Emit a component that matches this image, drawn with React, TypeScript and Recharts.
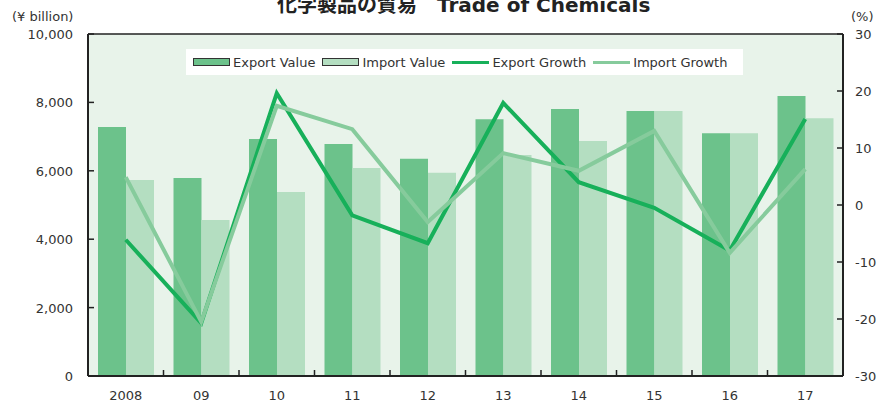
import {
  ComposedChart,
  Bar,
  Line,
  XAxis,
  YAxis,
  CartesianGrid,
  ReferenceLine,
} from "recharts";

const years = ["2008", "09", "10", "11", "12", "13", "14", "15", "16", "17"];
const exportValue = [7280, 5790, 6930, 6780, 6350, 7510, 7810, 7750, 7100, 8190];
const importValue = [5730, 4560, 5380, 6080, 5940, 6460, 6870, 7750, 7100, 7540];
const exportGrowth = [-6.1, -20.7, 19.6, -1.8, -6.7, 17.9, 4.0, -0.5, -8.0, 15.1];
const importGrowth = [4.9, -20.5, 17.4, 13.3, -3.0, 9.1, 6.0, 13.0, -8.4, 6.3];
const leftTicks = [0, 2000, 4000, 6000, 8000, 10000];
const rightTicks = [-30, -20, -10, 0, 10, 20, 30];

const data = years.map((year, i) => ({
  year,
  exportValue: exportValue[i],
  importValue: importValue[i],
  exportGrowth: exportGrowth[i],
  importGrowth: importGrowth[i],
}));

const FONT = "'DejaVu Sans', Verdana, sans-serif";
const TEXT = "#333";
const AXIS = "#222";
const C_EXP_BAR = "#6cc28b";
const C_IMP_BAR = "#b4dec1";
const C_EXP_LINE = "#17b05a";
const C_IMP_LINE = "#86cb9c";
const C_BG = "#e8f3ea";

function XTick(props: any) {
  const { x, y, payload, index } = props;
  const half = payload?.offset ?? 37.75;
  return (
    <g>
      {index > 0 && (
        <line x1={x - half} x2={x - half} y1={y} y2={y - 6} stroke={AXIS} strokeWidth={1.5} />
      )}
      <text x={x} y={y + 24} textAnchor="middle" fontSize={13} fill={TEXT} fontFamily={FONT}>
        {payload.value}
      </text>
    </g>
  );
}

function LeftTick(props: any) {
  const { x, y, payload } = props;
  return (
    <g>
      <line x1={x} x2={x + 6} y1={y} y2={y} stroke={AXIS} strokeWidth={1.5} />
      <text x={x - 15} y={y + 5} textAnchor="end" fontSize={13} fill={TEXT} fontFamily={FONT}>
        {payload.value.toLocaleString("en-US")}
      </text>
    </g>
  );
}

function RightTick(props: any) {
  const { x, y, payload } = props;
  return (
    <g>
      <line x1={x} x2={x - 6} y1={y} y2={y} stroke={AXIS} strokeWidth={1.5} />
      <text x={x + 12} y={y + 5} textAnchor="start" fontSize={13} fill={TEXT} fontFamily={FONT}>
        {payload.value}
      </text>
    </g>
  );
}

function LegendBox() {
  const item = { display: "flex", alignItems: "center", gap: 3 } as const;
  const swatch = (c: string) => (
    <span style={{ width: 35, height: 6, background: c, border: `1px solid ${TEXT}`, display: "inline-block" }} />
  );
  const line = (c: string) => (
    <span style={{ width: 37, height: 3, background: c, display: "inline-block" }} />
  );
  return (
    <div
      style={{
        position: "absolute",
        left: 186,
        top: 49,
        width: 557,
        height: 26,
        boxSizing: "border-box",
        paddingLeft: 7,
        background: "#fff",
        display: "flex",
        alignItems: "center",
        justifyContent: "flex-start",
        gap: 7,
        fontFamily: FONT,
        fontSize: 13,
        color: TEXT,
      }}
    >
      <span style={item}>{swatch(C_EXP_BAR)}Export Value</span>
      <span style={item}>{swatch(C_IMP_BAR)}Import Value</span>
      <span style={item}>{line(C_EXP_LINE)}Export Growth</span>
      <span style={item}>{line(C_IMP_LINE)}Import Growth</span>
    </div>
  );
}

export default function App() {
  return (
    <div style={{ position: "absolute", left: 0, top: 0, width: 881, height: 414, background: "#fff", overflow: "hidden" }}>
      <ComposedChart
        width={881}
        height={414}
        data={data}
        margin={{ top: 34, right: 0, left: 0, bottom: 0 }}
        barCategoryGap={10}
        barGap={0}
      >
        <CartesianGrid horizontal={false} vertical={false} fill={C_BG} />
        <XAxis
          dataKey="year"
          height={38}
          axisLine={{ stroke: AXIS, strokeWidth: 2 }}
          tickLine={false}
          tickSize={0}
          tickMargin={0}
          tick={<XTick />}
          interval={0}
        />
        <YAxis
          yAxisId="left"
          width={88}
          domain={[0, 10000]}
          ticks={leftTicks}
          axisLine={{ stroke: AXIS, strokeWidth: 2 }}
          tickLine={false}
          tickSize={0}
          tickMargin={0}
          tick={<LeftTick />}
          allowDataOverflow
        />
        <YAxis
          yAxisId="right"
          orientation="right"
          width={38}
          domain={[-30, 30]}
          ticks={rightTicks}
          axisLine={{ stroke: AXIS, strokeWidth: 2 }}
          tickLine={false}
          tickSize={0}
          tickMargin={0}
          tick={<RightTick />}
          allowDataOverflow
        />
        <ReferenceLine yAxisId="left" y={10000} stroke={AXIS} strokeWidth={1.5} />
        <Bar yAxisId="left" dataKey="exportValue" fill={C_EXP_BAR} isAnimationActive={false} />
        <Bar yAxisId="left" dataKey="importValue" fill={C_IMP_BAR} isAnimationActive={false} />
        <Line
          yAxisId="right"
          dataKey="exportGrowth"
          stroke={C_EXP_LINE}
          strokeWidth={4}
          dot={false}
          type="linear"
          isAnimationActive={false}
        />
        <Line
          yAxisId="right"
          dataKey="importGrowth"
          stroke={C_IMP_LINE}
          strokeWidth={4}
          dot={false}
          type="linear"
          isAnimationActive={false}
        />
      </ComposedChart>
      <LegendBox />
      <div
        style={{
          position: "absolute",
          left: 277,
          top: -11,
          fontFamily: "'DejaVu Sans', 'Noto Sans CJK JP', sans-serif",
          fontWeight: "bold",
          fontSize: 20,
          color: "#222",
          whiteSpace: "nowrap",
        }}
      >
        化学製品の貿易　Trade of Chemicals
      </div>
      <div style={{ position: "absolute", left: 12, top: 9, fontFamily: FONT, fontSize: 13, color: TEXT }}>
        (¥ billion)
      </div>
      <div style={{ position: "absolute", left: 851, top: 9, fontFamily: FONT, fontSize: 13, color: TEXT }}>
        (%)
      </div>
    </div>
  );
}
